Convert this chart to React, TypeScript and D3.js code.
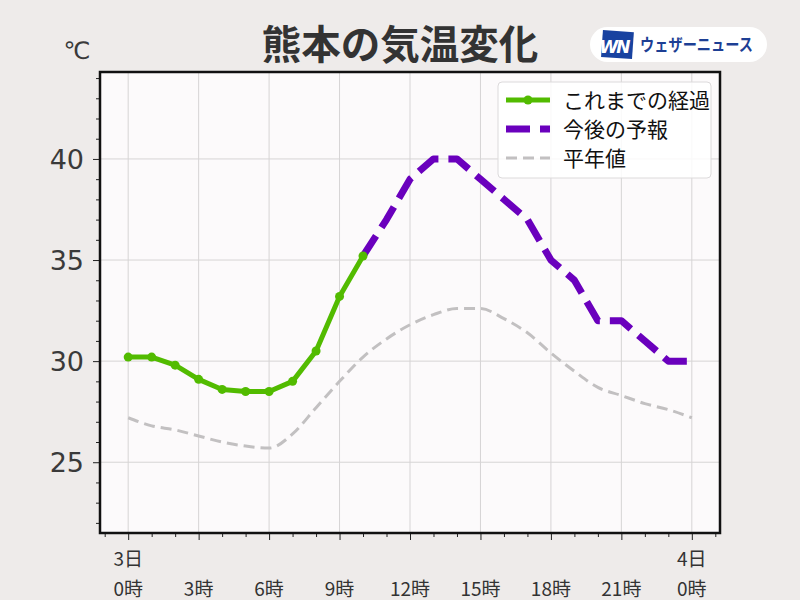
import React, { useEffect, useRef } from 'react';
import * as d3 from 'd3';

// hours from 3日0時 to 4日0時
const hours = d3.range(0, 25);
const observedHours = [0, 1, 2, 3, 4, 5, 6, 7, 8, 9, 10];
const observedTemps = [30.2, 30.2, 29.8, 29.1, 28.6, 28.5, 28.5, 29.0, 30.5, 33.2, 35.2];
const forecastHours = [10, 11, 12, 13, 14, 15, 16, 17, 18, 19, 20, 21, 22, 23, 24];
const forecastTemps = [35.2, 37, 39, 40, 40, 39, 38, 37, 35, 34, 32, 32, 31, 30, 30];
const normalTemps = [
  27.2, 26.8, 26.6, 26.3, 26.0, 25.8, 25.7, 26.4, 27.7, 29.0, 30.2, 31.1, 31.8,
  32.3, 32.6, 32.6, 32.1, 31.4, 30.4, 29.5, 28.7, 28.3, 27.9, 27.6, 27.2,
];
const yTicks = [25, 30, 35, 40];
const xMajorTicks = [0, 3, 6, 9, 12, 15, 18, 21, 24];
const xTickLabels = ['0時', '3時', '6時', '9時', '12時', '15時', '18時', '21時', '0時'];
const dayLabels: [number, string][] = [[0, '3日'], [24, '4日']];
const legendItems = ['これまでの経過', '今後の予報', '平年値'];

const W = 800;
const H = 600;
const plot = { left: 100, right: 720, top: 72, bottom: 533 };
const JP = '"Noto Sans CJK JP", "Noto Sans", sans-serif';
const GREEN = '#52bb00';
const PURPLE = '#6a00bd';
const GRAY = '#c2c0c1';

const App: React.FC = () => {
  const svgRef = useRef<SVGSVGElement>(null);

  useEffect(() => {
    if (!svgRef.current) return;
    const svg = d3.select(svgRef.current);
    svg.selectAll('*').remove();

    const x = d3.scaleLinear().domain([-1.2, 25.2]).range([plot.left, plot.right]);
    const y = d3.scaleLinear().domain([21.5, 44.3]).range([plot.bottom, plot.top]);

    svg.append('rect').attr('width', W).attr('height', H).attr('fill', '#eeebea');
    svg.append('rect')
      .attr('x', plot.left).attr('y', plot.top)
      .attr('width', plot.right - plot.left).attr('height', plot.bottom - plot.top)
      .attr('fill', '#fcfafb');

    // grid
    const grid = svg.append('g').attr('stroke', '#d6d4d5').attr('stroke-width', 1);
    xMajorTicks.forEach(h => {
      grid.append('line').attr('x1', x(h)).attr('x2', x(h)).attr('y1', plot.top).attr('y2', plot.bottom);
    });
    yTicks.forEach(t => {
      grid.append('line').attr('x1', plot.left).attr('x2', plot.right).attr('y1', y(t)).attr('y2', y(t));
    });

    // axes
    const yAxis = d3.axisLeft(y).tickValues(yTicks).tickSize(7).tickPadding(9).tickFormat(d => String(d));
    const yMinor = d3.axisLeft(y).tickValues(d3.range(22, 45).filter(v => v % 5 !== 0)).tickSize(4).tickFormat(() => '');
    const gy = svg.append('g').attr('transform', `translate(${plot.left},0)`).call(yAxis);
    svg.append('g').attr('transform', `translate(${plot.left},0)`).call(yMinor);
    gy.selectAll('text').attr('font-family', '"DejaVu Sans", sans-serif').attr('font-size', 27)
      .attr('fill', '#3a3a3a').attr('dy', '0.36em');

    const xAxis = d3.axisBottom(x).tickValues(xMajorTicks).tickSize(7).tickFormat(() => '');
    const xMinor = d3.axisBottom(x).tickValues(d3.range(-1, 26).filter(v => v % 3 !== 0)).tickSize(4).tickFormat(() => '');
    svg.append('g').attr('transform', `translate(0,${plot.bottom})`).call(xAxis);
    svg.append('g').attr('transform', `translate(0,${plot.bottom})`).call(xMinor);
    svg.selectAll('.tick line').attr('stroke', '#222');
    svg.selectAll('.domain').remove();

    const xl = svg.append('g').attr('font-family', JP).attr('font-size', 19).attr('fill', '#333').attr('text-anchor', 'middle');
    xMajorTicks.forEach((h, i) => {
      xl.append('text').attr('x', x(h)).attr('y', 596).text(xTickLabels[i]);
    });
    dayLabels.forEach(([h, s]) => {
      xl.append('text').attr('x', x(h)).attr('y', 566).text(s);
    });

    // clip for series
    svg.append('clipPath').attr('id', 'plot-clip').append('rect')
      .attr('x', plot.left).attr('y', plot.top)
      .attr('width', plot.right - plot.left).attr('height', plot.bottom - plot.top);
    const series = svg.append('g').attr('clip-path', 'url(#plot-clip)');

    const normalLine = d3.line<number>().x((_, i) => x(hours[i])).y(d => y(d)).curve(d3.curveMonotoneX);
    series.append('path').attr('d', normalLine(normalTemps))
      .attr('fill', 'none').attr('stroke', GRAY).attr('stroke-width', 3).attr('stroke-dasharray', '11,6');

    const fcLine = d3.line<number>().x((_, i) => x(forecastHours[i])).y(d => y(d));
    series.append('path').attr('d', fcLine(forecastTemps))
      .attr('fill', 'none').attr('stroke', PURPLE).attr('stroke-width', 7)
      .attr('stroke-dasharray', '24,10').attr('stroke-linejoin', 'round');

    const obsLine = d3.line<number>().x((_, i) => x(observedHours[i])).y(d => y(d));
    series.append('path').attr('d', obsLine(observedTemps))
      .attr('fill', 'none').attr('stroke', GREEN).attr('stroke-width', 5).attr('stroke-linejoin', 'round');
    series.selectAll('circle.obs').data(observedTemps).enter().append('circle')
      .attr('cx', (_, i) => x(observedHours[i])).attr('cy', d => y(d)).attr('r', 4.5).attr('fill', GREEN);

    // frame
    svg.append('rect')
      .attr('x', plot.left).attr('y', plot.top)
      .attr('width', plot.right - plot.left).attr('height', plot.bottom - plot.top)
      .attr('fill', 'none').attr('stroke', '#111').attr('stroke-width', 2.5);

    // legend
    const lg = svg.append('g').attr('transform', 'translate(498,82)');
    lg.append('rect').attr('width', 213).attr('height', 96).attr('rx', 4)
      .attr('fill', 'rgba(255,255,255,0.85)').attr('stroke', '#dcdadb');
    const rows = [100, 129, 158].map(v => v - 82);
    lg.append('line').attr('x1', 8).attr('x2', 52).attr('y1', rows[0]).attr('y2', rows[0])
      .attr('stroke', GREEN).attr('stroke-width', 5);
    lg.append('circle').attr('cx', 30).attr('cy', rows[0]).attr('r', 4.5).attr('fill', GREEN);
    lg.append('line').attr('x1', 8).attr('x2', 52).attr('y1', rows[1]).attr('y2', rows[1])
      .attr('stroke', PURPLE).attr('stroke-width', 7).attr('stroke-dasharray', '24,10');
    lg.append('line').attr('x1', 8).attr('x2', 52).attr('y1', rows[2]).attr('y2', rows[2])
      .attr('stroke', GRAY).attr('stroke-width', 3).attr('stroke-dasharray', '11,6');
    legendItems.forEach((s, i) => {
      lg.append('text').attr('x', 65).attr('y', rows[i]).attr('dy', '0.36em')
        .attr('font-family', JP).attr('font-size', 21).attr('fill', '#111').text(s);
    });

    // title and unit
    svg.append('text').attr('x', 400).attr('y', 59).attr('text-anchor', 'middle')
      .attr('font-family', JP).attr('font-weight', 'bold').attr('font-size', 39.5).attr('fill', '#333')
      .text('熊本の気温変化');
    svg.append('text').attr('x', 77).attr('y', 59).attr('text-anchor', 'middle')
      .attr('font-family', '"DejaVu Sans", sans-serif').attr('font-size', 24).attr('fill', '#3a3a3a').text('℃');

    // logo
    const logo = svg.append('g').attr('transform', 'translate(590,27)');
    logo.append('rect').attr('width', 177).attr('height', 35).attr('rx', 17.5).attr('fill', '#fff');
    logo.append('rect').attr('x', 12).attr('y', 4).attr('width', 31).attr('height', 27)
      .attr('fill', '#1842a0').attr('transform', 'rotate(4,27,17)');
    logo.append('text').attr('x', 24).attr('y', 26).attr('text-anchor', 'middle')
      .attr('font-family', '"DejaVu Sans", sans-serif').attr('font-weight', 'bold').attr('font-style', 'italic')
      .attr('font-size', 17).attr('fill', '#fff').attr('letter-spacing', -2).text('WN');
    logo.append('text').attr('x', 50).attr('y', 24).attr('font-family', JP).attr('font-weight', 'bold')
      .attr('font-size', 16.5).attr('fill', '#1d3f94').attr('textLength', 113)
      .attr('lengthAdjust', 'spacingAndGlyphs').text('ウェザーニュース');
  }, []);

  return <svg ref={svgRef} width={W} height={H} style={{ position: 'absolute', left: 0, top: 0 }} />;
};

export default App;
